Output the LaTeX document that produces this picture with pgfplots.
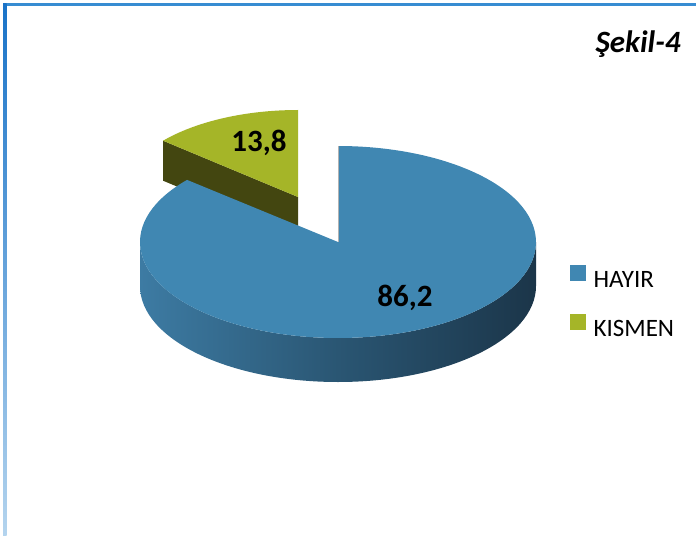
\documentclass[border=0pt]{standalone}
\usepackage{fontspec}
\setmainfont{Carlito}
\usepackage{pgfplots}
\usepackage{pgfplotstable}
\pgfplotsset{compat=1.18}
\definecolor{hayir}{RGB}{64,135,178}
\definecolor{kismen}{RGB}{165,181,40}
\definecolor{kismenside}{RGB}{67,70,16}
\definecolor{sideL}{RGB}{61,123,163}
\definecolor{sideM}{RGB}{42,86,115}
\definecolor{sideR}{RGB}{27,53,73}
\definecolor{frametop}{RGB}{55,140,210}
\definecolor{frameleftA}{RGB}{25,115,200}
\definecolor{frameleftB}{RGB}{180,212,238}

\pgfplotstableread{
label value
HAYIR 86.2
KISMEN 13.8
}\piedata

\begin{document}
\begin{tikzpicture}
\pgfplotstablegetelem{0}{value}\of\piedata \let\vA\pgfplotsretval
\pgfplotstablegetelem{1}{value}\of\piedata \let\vB\pgfplotsretval
\pgfmathsetmacro\angB{90+3.6*\vB}
\pgfkeys{/pgf/number format/.cd, use comma, fixed, precision=1, assume math mode=true}
\begin{axis}[
  scale only axis, width=696bp, height=536bp,
  xmin=0, xmax=696, ymin=0, ymax=536, y dir=reverse,
  hide axis, clip=false,
  legend cell align=left,
  legend style={draw=none, fill=none, at={(axis cs:570,265)}, anchor=north west,
    font=\fontsize{25bp}{29bp}\selectfont, inner sep=0pt, row sep=26bp, column sep=8bp,
    nodes={inner sep=0pt, text height=15bp, text depth=0pt}},
]
\fill[white] (0,0) rectangle (696,536);
% frame
\fill[frametop] (3,3.5) rectangle (696,6);
\shade[top color=frameleftA, bottom color=frameleftB] (3,3.5) rectangle (6.5,536);
% KISMEN slice (exploded)
\fill[kismenside] (298,197) -- ({298+177*cos(\angB)},{197-87*sin(\angB)}) -- ({298+177*cos(\angB)},{237-87*sin(\angB)}) -- (298,237) -- cycle;
\fill[kismen] (298,197) -- (298,110) arc[start angle=90, end angle=\angB, x radius=177bp, y radius=87bp] -- cycle;
% HAYIR slice side
\shade[left color=sideL, right color=sideR, middle color=sideM]
  (140,242) arc[start angle=180, end angle=360, x radius=198bp, y radius=96bp]
  -- (536,286) arc[start angle=0, end angle=-180, x radius=198bp, y radius=96bp] -- cycle;
% HAYIR top
\fill[hayir] (338,242) -- ({338+198*cos(\angB)},{242-96*sin(\angB)}) arc[start angle=\angB, end angle=450, x radius=198bp, y radius=96bp] -- cycle;
\draw[gray!60, line width=0.6bp] (338,146) -- (338,242);
% labels
\node[font=\fontsize{31bp}{36bp}\selectfont\bfseries] at (259,143) {\pgfmathprintnumber{\vB}};
\node[font=\fontsize{31bp}{36bp}\selectfont\bfseries] at (405,298) {\pgfmathprintnumber{\vA}};
\node[font=\fontsize{31bp}{36bp}\selectfont\bfseries\itshape, anchor=base east] at (684,53) {Şekil-4};
\addlegendimage{legend image code/.code={\fill[hayir] (0bp,0bp) rectangle (15bp,15bp);}}
\addlegendentry{HAYIR}
\addlegendimage{legend image code/.code={\fill[kismen] (0bp,0bp) rectangle (15bp,15bp);}}
\addlegendentry{KISMEN}
\end{axis}
\end{tikzpicture}
\end{document}
